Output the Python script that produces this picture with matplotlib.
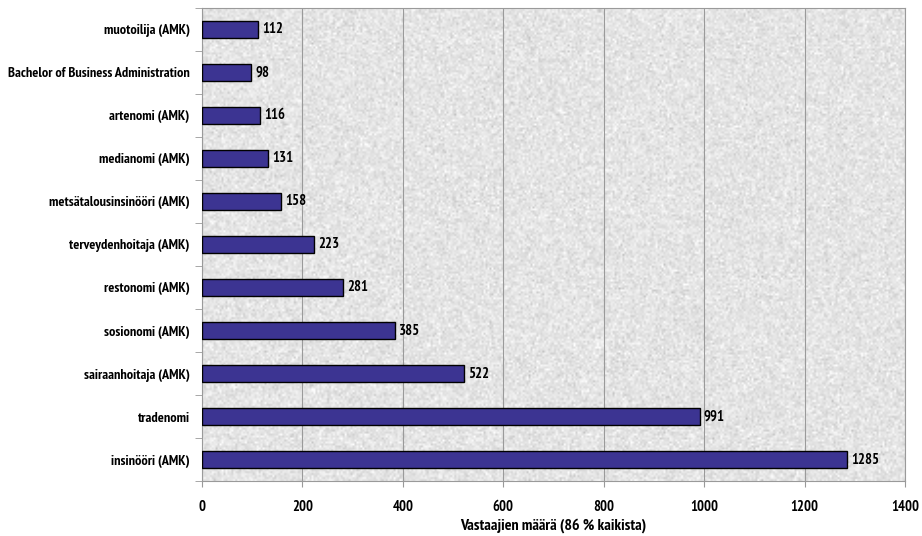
import numpy as np
import matplotlib
matplotlib.use("Agg")
import matplotlib.pyplot as plt

plt.rcParams['font.family'] = ['PT Sans Narrow', 'Roboto Condensed', 'DejaVu Sans']
plt.rcParams['font.weight'] = 'bold'

categories = ['insinööri (AMK)', 'tradenomi', 'sairaanhoitaja (AMK)', 'sosionomi (AMK)',
              'restonomi (AMK)', 'terveydenhoitaja (AMK)', 'metsätalousinsinööri (AMK)',
              'medianomi (AMK)', 'artenomi (AMK)', 'Bachelor of Business Administration',
              'muotoilija (AMK)']
counts = [1285, 991, 522, 385, 281, 223, 158, 131, 116, 98, 112]
x_ticks = [0, 200, 400, 600, 800, 1000, 1200, 1400]

fig = plt.figure(figsize=(9.22, 5.36), dpi=100)
ax = fig.add_axes([0.2191, 0.1026, 0.7625, 0.8825])

# granite-like background texture (decoration only)
rng = np.random.default_rng(3)
tex = rng.normal(0.895, 0.04, (240, 360))
ax.imshow(tex, cmap='gray', vmin=0, vmax=1, extent=[0, 1, 0, 1],
          transform=ax.transAxes, aspect='auto', zorder=0, interpolation='bilinear')

y = np.arange(len(categories))
ax.barh(y, counts, height=0.4, color='#3c3492', edgecolor='black', linewidth=1, zorder=3)
for yi, v in zip(y, counts):
    ax.text(v + 8, yi, str(v), va='center', ha='left', fontsize=10.5, zorder=4)

ax.set_xlim(0, 1400)
ax.set_ylim(-0.5, len(categories) - 0.5)
ax.set_xticks(x_ticks)
ax.set_xticklabels([str(t) for t in x_ticks], fontsize=10.5)
ax.set_yticks(y)
ax.set_yticklabels(categories, fontsize=10.3)
ax.tick_params(axis='y', length=0, pad=9)
ax.set_yticks(np.arange(-0.5, len(categories), 1), minor=True)
ax.tick_params(axis='y', which='minor', length=5, color='#999999')
ax.tick_params(axis='x', length=4, color='#999999', pad=10)
ax.xaxis.grid(True, color='#9a9a9a', linewidth=0.8, zorder=1)
ax.set_axisbelow(True)
for s in ax.spines.values():
    s.set_color('#9a9a9a')

ax.set_xlabel('Vastaajien määrä (86 % kaikista)', fontsize=11.5, fontweight='bold', labelpad=3)

fig.savefig('out.png', dpi=100)
